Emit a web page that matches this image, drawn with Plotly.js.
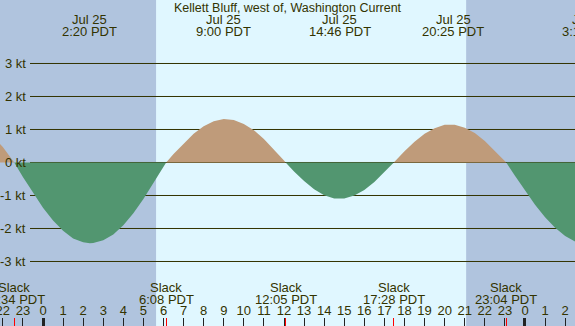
<!DOCTYPE html>
<html>
<head>
<meta charset="utf-8">
<script src="https://cdn.plot.ly/plotly-3.0.1.min.js"></script>
<style>html,body{margin:0;padding:0;background:#b0c4de;}#chart{width:575px;height:326px;}</style>
</head>
<body>
<div id="chart"></div>
<script>
// Hours relative to Jul 25 00:00 PDT
const times = [-2.5, -2.0, -1.433, -1.0, -0.5, 0, 0.5, 1.0, 1.5, 2.0, 2.333, 2.5, 3.0, 3.5, 4.0, 4.5, 5.0, 5.5, 6.0, 6.133,
  6.5, 7.0, 7.5, 8.0, 8.5, 9.0, 9.5, 10.0, 10.5, 11.0, 11.5, 12.0, 12.083,
  12.5, 13.0, 13.5, 14.0, 14.5, 14.767, 15.0, 15.5, 16.0, 16.5, 17.0, 17.467,
  18.0, 18.5, 19.0, 19.5, 20.0, 20.417, 20.5, 21.0, 21.5, 22.0, 22.5, 23.0, 23.067,
  23.5, 24.0, 24.5, 25.0, 25.5, 26.0, 26.5, 27.0];
const speeds = [0.78, 0.47, 0, -0.44, -0.92, -1.37, -1.76, -2.07, -2.30, -2.42, -2.45, -2.44, -2.36, -2.18, -1.90, -1.54, -1.11, -0.63, -0.13, 0,
  0.26, 0.58, 0.87, 1.10, 1.25, 1.32, 1.29, 1.17, 0.98, 0.71, 0.40, 0.06, 0,
  -0.27, -0.56, -0.81, -0.99, -1.09, -1.10, -1.09, -1.00, -0.83, -0.59, -0.30, 0,
  0.34, 0.63, 0.87, 1.04, 1.14, 1.15, 1.14, 1.05, 0.89, 0.65, 0.36, 0.05, 0,
  -0.40, -0.86, -1.28, -1.66, -1.98, -2.23, -2.40, -2.49];

const extremeTimes = [2.333, 9.0, 14.767, 20.417, 27.233];
const extremeDates = ["Jul 25", "Jul 25", "Jul 25", "Jul 25", "Jul 26"];
const extremeLabels = ["2:20 PDT", "9:00 PDT", "14:46 PDT", "20:25 PDT", "3:14 PDT"];

const slackTimes = [-1.433, 6.133, 12.083, 17.467, 23.067];
const slackLabels = ["22:34 PDT", "6:08 PDT", "12:05 PDT", "17:28 PDT", "23:04 PDT"];

const hourTicks = [-2, -1, 0, 1, 2, 3, 4, 5, 6, 7, 8, 9, 10, 11, 12, 13, 14, 15, 16, 17, 18, 19, 20, 21, 22, 23, 24, 25, 26];
const hourLabels = ["22", "23", "0", "1", "2", "3", "4", "5", "6", "7", "8", "9", "10", "11", "12", "13", "14", "15", "16", "17", "18", "19", "20", "21", "22", "23", "0", "1", "2"];
const midnightTicks = [0, 24];

const speedTicks = [3, 2, 1, 0, -1, -2, -3];
const speedLabels = ["3 kt", "2 kt", "1 kt", "0 kt", "-1 kt", "-2 kt", "-3 kt"];

const sunrise = 5.63, sunset = 21.07;

const W = 575, H = 326;
const xRange = [-2.141, 26.49];
const yRange = [-4.955, 4.924];
const textColor = '#333300';
const font = 'Liberation Sans, Arial, sans-serif';
const fs = 13;

const flood = speeds.map(v => v > 0 ? v : 0);
const ebb = speeds.map(v => v < 0 ? v : 0);

const traces = [
  {x: times, y: flood, type: 'scatter', mode: 'lines', fill: 'tozeroy', fillcolor: '#bf9b7a', line: {width: 0, color: '#bf9b7a'}, hoverinfo: 'skip'},
  {x: times, y: ebb, type: 'scatter', mode: 'lines', fill: 'tozeroy', fillcolor: '#529670', line: {width: 0, color: '#529670'}, hoverinfo: 'skip'},
  {x: slackTimes, y: slackTimes.map(() => 0), xaxis: 'x2', type: 'scatter', mode: 'markers', marker: {opacity: 0}, hoverinfo: 'skip'},
  {x: midnightTicks, y: midnightTicks.map(() => 0), xaxis: 'x3', type: 'scatter', mode: 'markers', marker: {opacity: 0}, hoverinfo: 'skip'}
];

const shapes = [
  {type: 'rect', xref: 'x', yref: 'paper', x0: sunrise, x1: sunset, y0: 0, y1: 1, fillcolor: '#e0f7ff', line: {width: 0}, layer: 'below'}
];
speedTicks.forEach(v => shapes.push({type: 'line', xref: 'paper', yref: 'y', x0: 30 / W, x1: 1, y0: v, y1: v, line: {color: textColor, width: 1}, layer: 'between'}));

const annotations = [];
function xPos(t) {
  if (t >= xRange[0] && t <= xRange[1]) return {xref: 'x', x: t};
  return {xref: 'paper', x: (t - xRange[0]) / (xRange[1] - xRange[0])};
}
function ann(t, py, text) {
  const p = xPos(t);
  annotations.push(Object.assign({yref: 'paper', y: 1 - py / H, yanchor: 'middle', xanchor: 'center', text: text, showarrow: false,
    font: {family: font, size: fs, color: textColor}}, p));
}
extremeTimes.forEach((t, i) => { ann(t, 20, extremeDates[i]); ann(t, 32, extremeLabels[i]); });
slackTimes.forEach((t, i) => { ann(t, 287, 'Slack'); ann(t, 299, slackLabels[i]); });
speedTicks.forEach((v, i) => annotations.push({xref: 'paper', x: 28 / W, xanchor: 'right', yref: 'y', y: v, yanchor: 'middle',
  text: speedLabels[i], showarrow: false, font: {family: font, size: fs, color: textColor}}));

const layout = {
  width: W, height: H,
  margin: {l: 0, r: 0, t: 0, b: 0, pad: 0},
  paper_bgcolor: '#b0c4de', plot_bgcolor: '#b0c4de',
  showlegend: false,
  title: {text: 'Kellett Bluff, west of, Washington Current', x: 0.5, xanchor: 'center', y: 1 - 8 / H, yanchor: 'middle', yref: 'container',
    font: {family: font, size: 12.5, color: textColor}},
  xaxis: {range: xRange, tickvals: hourTicks, ticktext: hourLabels, ticks: 'inside', ticklen: 8, tickwidth: 1, tickcolor: '#222',
    ticklabelposition: 'inside', ticklabeloverflow: 'allow', tickfont: {family: font, size: fs, color: textColor},
    showgrid: false, zeroline: false, showline: false, fixedrange: true},
  xaxis2: {overlaying: 'x', matches: 'x', anchor: 'y', side: 'bottom', range: xRange, tickvals: slackTimes, ticks: 'inside', ticklen: 8, tickwidth: 1,
    tickcolor: '#ff0000', showticklabels: false, showgrid: false, zeroline: false, showline: false},
  xaxis3: {overlaying: 'x', matches: 'x', anchor: 'y', side: 'bottom', range: xRange, tickvals: midnightTicks, ticks: 'inside', ticklen: 8, tickwidth: 3,
    tickcolor: '#222', showticklabels: false, showgrid: false, zeroline: false, showline: false},
  yaxis: {range: yRange, showgrid: false, zeroline: false, showticklabels: false, ticks: '', showline: false, fixedrange: true},
  shapes: shapes,
  annotations: annotations
};

Plotly.newPlot('chart', traces, layout, {staticPlot: true, displayModeBar: false});
</script>
</body>
</html>
